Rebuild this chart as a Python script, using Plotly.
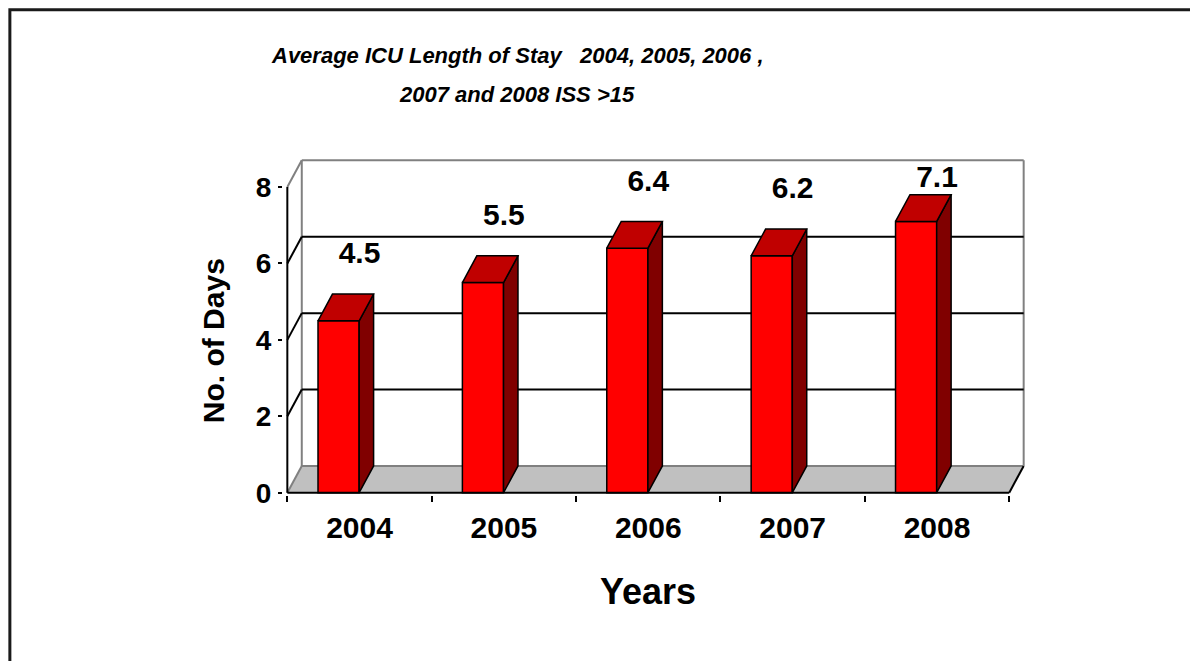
import plotly.graph_objects as go

years = ["2004", "2005", "2006", "2007", "2008"]
avg_days = [4.5, 5.5, 6.4, 6.2, 7.1]
y_ticks = [0, 2, 4, 6, 8]

W, H = 1198, 661
PAGE_PAD = 8  # default body margin of the html page
# pixel mapping of the front plane (x=-0.5 at px 287, y=0 at px 493)
X_PX0, X_SCALE = 287 - PAGE_PAD, 144.4
Y_PX0, Y_SCALE = 493 - PAGE_PAD, 38.25
X_RANGE = [-0.53, 4.63]
Y_RANGE = [-0.06, 8.76]

ml = X_PX0 + (X_RANGE[0] + 0.5) * X_SCALE
pw = (X_RANGE[1] - X_RANGE[0]) * X_SCALE
mr = W - ml - pw
mt = Y_PX0 - Y_RANGE[1] * Y_SCALE
ph = (Y_RANGE[1] - Y_RANGE[0]) * Y_SCALE
mb = H - mt - ph


def px(x):
    return (x - PAGE_PAD - ml) / pw


def py(y):
    return (H - mb - (y - PAGE_PAD)) / ph


DX, DY = 0.1, 0.7          # depth offset of the 3-D box
BW, BOFF = 0.285, -0.2875  # bar width / offset from category centre
XL, XR = -0.5, len(years) - 0.5
FONT = "Liberation Sans, Arial, sans-serif"
GRAY = "#808080"

idx = list(range(len(years)))

fig = go.Figure()

# front faces
fig.add_trace(go.Bar(x=idx, y=avg_days, width=BW, offset=BOFF,
                     marker=dict(color="#FF0000", line=dict(color="black", width=1.5))))

# side and top faces
side_x, side_y, top_x, top_y = [], [], [], []
for i, v in zip(idx, avg_days):
    l, r = i + BOFF, i + BOFF + BW
    side_x += [r, r + DX, r + DX, r, r, None]
    side_y += [0, DY, v + DY, v, 0, None]
    top_x += [l, l + DX, r + DX, r, l, None]
    top_y += [v, v + DY, v + DY, v, v, None]
fig.add_trace(go.Scatter(x=side_x, y=side_y, fill="toself", fillcolor="#800000", mode="lines",
                         line=dict(color="black", width=1.5), hoverinfo="skip"))
fig.add_trace(go.Scatter(x=top_x, y=top_y, fill="toself", fillcolor="#C00000", mode="lines",
                         line=dict(color="black", width=1.5), hoverinfo="skip"))

# value labels
fig.add_trace(go.Scatter(x=idx, y=[min(v + 1.7, 8.2) for v in avg_days], mode="text",
                         text=[f"{v:.1f}" for v in avg_days], cliponaxis=False,
                         textfont=dict(family=FONT, size=30, color="black", weight="bold"),
                         hoverinfo="skip"))

shapes = []
# floor
shapes.append(dict(type="path", layer="below", fillcolor="#C0C0C0", line=dict(width=0),
                   path=f"M {XL},0 L {XR},0 L {XR + DX},{DY} L {XL + DX},{DY} Z"))
shapes.append(dict(type="line", layer="below", x0=XL + DX, y0=DY, x1=XR + DX, y1=DY,
                   line=dict(color=GRAY, width=2)))
shapes.append(dict(type="line", layer="below", x0=XR, y0=0, x1=XR + DX, y1=DY,
                   line=dict(color="black", width=2)))
# back wall border
top = y_ticks[-1] + DY
for x0, y0, x1, y1 in [(XL + DX, DY, XL + DX, top), (XL + DX, top, XR + DX, top),
                       (XR + DX, DY, XR + DX, top)]:
    shapes.append(dict(type="line", layer="below", x0=x0, y0=y0, x1=x1, y1=y1,
                       line=dict(color=GRAY, width=2)))
# gridlines and left-wall diagonals
for t in y_ticks:
    inner = t not in (y_ticks[0], y_ticks[-1])
    col = "black" if inner else GRAY
    shapes.append(dict(type="line", layer="below", x0=XL, y0=t, x1=XL + DX, y1=t + DY,
                       line=dict(color=col, width=2)))
    if inner:
        shapes.append(dict(type="line", layer="below", x0=XL + DX, y0=t + DY, x1=XR + DX, y1=t + DY,
                           line=dict(color="black", width=2)))
# front axes
shapes.append(dict(type="line", layer="above", x0=XL, y0=0, x1=XL, y1=y_ticks[-1],
                   line=dict(color="black", width=2)))
shapes.append(dict(type="line", layer="above", x0=XL, y0=0, x1=XR, y1=0,
                   line=dict(color="black", width=2)))
# outer frame
shapes.append(dict(type="rect", xref="paper", yref="paper", x0=px(9.5), y0=py(H + 30),
                   x1=px(W + 30), y1=py(9.5), line=dict(color="#1a1a1a", width=3)))

title_font = dict(family=FONT, size=22, color="black", weight="bold", style="italic")
annotations = [
    dict(text="Average ICU Length of Stay   2004, 2005, 2006 ,", x=px(517), y=py(55)),
    dict(text="2007 and 2008 ISS >15", x=px(517), y=py(94)),
]
for a in annotations:
    a.update(xref="paper", yref="paper", showarrow=False, font=title_font,
             xanchor="center", yanchor="middle")
annotations.append(dict(text="No. of Days", x=px(214), y=py(341), xref="paper", yref="paper",
                        textangle=-90, showarrow=False, xanchor="center", yanchor="middle",
                        font=dict(family=FONT, size=30, color="black", weight="bold")))
annotations.append(dict(text="Years", x=px(648), y=py(592), xref="paper", yref="paper",
                        showarrow=False, xanchor="center", yanchor="middle",
                        font=dict(family=FONT, size=36, color="black", weight="bold")))

fig.update_layout(
    width=W, height=H, autosize=False,
    margin=dict(l=ml, r=mr, t=mt, b=mb, pad=0),
    paper_bgcolor="white", plot_bgcolor="white",
    showlegend=False, shapes=shapes, annotations=annotations,
)
fig.update_xaxes(range=X_RANGE, tickvals=idx, ticktext=years, ticks="", showgrid=False,
                 zeroline=False, showline=False, ticklabelstandoff=12,
                 tickfont=dict(family=FONT, size=30, color="black", weight="bold"),
                 minor=dict(ticks="outside", ticklen=6, tickwidth=2, tickcolor="black",
                            tick0=-0.5, dtick=1, showgrid=False))
fig.update_yaxes(range=Y_RANGE, tickvals=y_ticks, ticks="outside", ticklen=4, tickwidth=2,
                 tickcolor="black", showgrid=False, zeroline=False, showline=False,
                 ticklabelstandoff=1,
                 tickfont=dict(family=FONT, size=28, color="black", weight="bold"))

fig.write_html("out.html")
